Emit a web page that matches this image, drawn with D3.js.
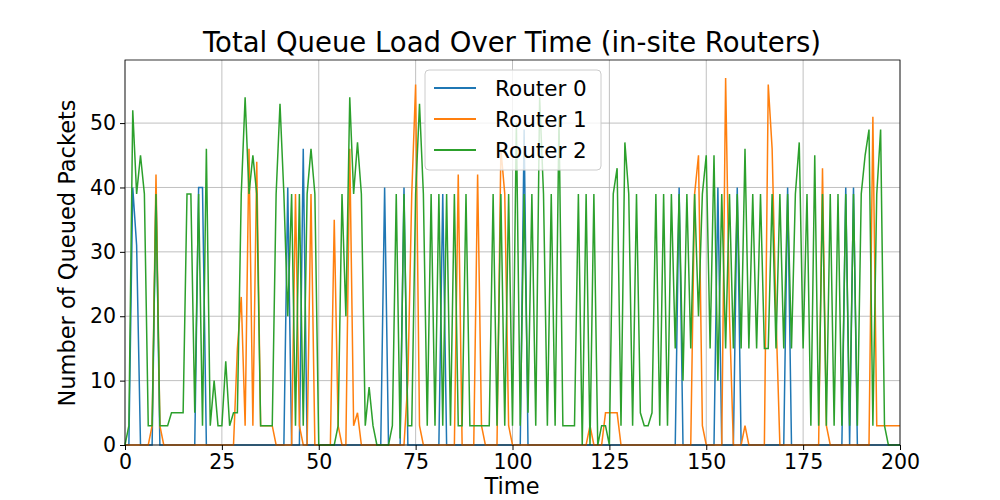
<!DOCTYPE html>
<html><head><meta charset="utf-8">
<script src="https://cdn.jsdelivr.net/npm/d3@7"></script>
<style>body{margin:0;background:#fff}text{font-family:"DejaVu Sans",sans-serif}</style>
</head><body><svg id="c" width="1000" height="500"></svg>
<script>
const seriesNames = ["Router 0","Router 1","Router 2"];
const colors = ["#1f77b4","#ff7f0e","#2ca02c"];
const xTicks = [0,25,50,75,100,125,150,175,200];
const yTicks = [0,10,20,30,40,50];
const router0 = [0,0,40,31,0,0,0,0,40,0, 0,0,0,0,0,0,0,0,0,40, 40,0,0,0,0,0,0,0,0,0, 0,0,0,0,0,0,0,0,0,0,
 0,0,40,0,0,0,46,0,0,0, 0,0,0,0,0,0,0,0,0,0, 0,0,0,0,0,0,0,40,0,0, 0,0,40,0,0,0,0,0,0,0, 0,0,39,0,0,0,0,0,0,0,
 0,0,0,0,0,0,0,0,0,0, 0,0,0,49,0,0,0,0,0,0, 0,0,0,0,0,0,0,0,0,0, 0,0,0,0,0,0,0,0,0,0, 0,0,0,0,0,0,0,0,0,0,
 0,0,0,40,0,0,0,0,0,0, 0,0,0,40,0,0,0,0,40,0, 0,0,0,0,0,0,0,0,0,0, 0,40,0,0,0,0,0,0,0,0, 0,0,0,0,0,0,40,0,40,0,
 0,0,0,0,0,0,0,0,0,0, 0];
const router1 = [0,0,0,0,0,0,0,3,42,3, 0,0,0,0,0,0,0,0,0,0, 0,0,0,0,0,0,0,0,0,15, 23,3,46,3,44,3,3,3,3,0,
 0,0,0,0,39,3,0,0,39,0, 0,0,0,0,35,3,0,0,46,3, 5,0,0,0,0,0,0,0,0,0, 0,0,0,10,39,56,3,0,0,0, 0,0,0,0,0,0,42,0,0,0,
 0,42,3,0,0,0,0,46,39,3, 0,0,0,0,0,0,0,0,0,0, 0,0,0,0,0,0,0,0,0,0, 3,0,0,0,5,5,5,5,0,0, 0,0,0,0,0,0,0,0,0,0,
 0,0,0,0,0,0,0,39,45,3, 0,0,0,0,0,57,20,0,0,0, 3,0,0,0,0,0,56,46,20,0, 0,0,0,0,0,0,0,0,0,0, 43,3,0,0,0,0,0,0,0,0,
 0,0,0,51,3,3,3,3,3,3, 3];
const router2 = [0,3,52,39,45,39,3,3,39,3, 3,3,5,5,5,5,39,39,5,39, 3,46,3,10,3,3,13,3,5,5, 39,54,39,45,39,3,3,3,3,39,
 53,39,20,39,3,39,3,39,46,39, 0,0,0,0,0,3,39,20,54,39, 47,39,3,9,3,0,0,0,0,3, 39,1,39,3,3,39,53,39,3,39,
 3,39,3,39,3,39,3,3,39,3, 3,3,3,3,3,39,3,39,3,39, 3,50,3,39,5,39,3,54,39,3, 39,3,51,3,3,3,3,39,0,39,
 0,39,0,3,3,0,39,43,3,47, 39,3,39,5,3,3,5,39,3,39, 3,39,15,39,10,39,15,39,20,39, 45,15,45,10,39,15,39,15,39,15,
 46,15,39,15,39,15,15,39,15,39, 15,39,15,39,47,15,39,3,45,3, 39,3,39,3,39,3,39,3,39,3, 39,45,49,3,39,49,3,0,0,0, 0];
const data = [router0, router1, router2];

const svg = d3.select("#c");
const m = {l:125, r:900, t:60, b:445};
const x = d3.scaleLinear().domain([0,200]).range([m.l,m.r]);
const y = d3.scaleLinear().domain([0,59.8]).range([m.b,m.t]);

svg.append("g").selectAll("line").data(xTicks).join("line")
  .attr("x1",d=>x(d)).attr("x2",d=>x(d)).attr("y1",m.t).attr("y2",m.b).attr("stroke","#b0b0b0").attr("stroke-width",0.8);
svg.append("g").selectAll("line").data(yTicks).join("line")
  .attr("y1",d=>y(d)).attr("y2",d=>y(d)).attr("x1",m.l).attr("x2",m.r).attr("stroke","#b0b0b0").attr("stroke-width",0.8);

const line = d3.line().x((d,i)=>x(i)).y(d=>y(d));
data.forEach((s,k)=>{
  svg.append("path").datum(s).attr("d",line).attr("fill","none").attr("stroke",colors[k]).attr("stroke-width",1.5);
});

svg.append("rect").attr("x",m.l).attr("y",m.t).attr("width",m.r-m.l).attr("height",m.b-m.t).attr("fill","none").attr("stroke","#000").attr("stroke-width",0.8);

const xa = svg.append("g").attr("transform",`translate(0,${m.b})`).call(d3.axisBottom(x).tickValues(xTicks).tickSize(5).tickPadding(4));
const ya = svg.append("g").attr("transform",`translate(${m.l},0)`).call(d3.axisLeft(y).tickValues(yTicks).tickSize(5).tickPadding(4));
[xa,ya].forEach(a=>{a.select(".domain").remove();a.selectAll("text").attr("font-size",20.5).attr("font-family","DejaVu Sans").attr("fill","#000");a.selectAll("line").attr("stroke","#000");});

svg.append("text").attr("x",512).attr("y",52).attr("text-anchor","middle").attr("font-size",27.5).text("Total Queue Load Over Time (in-site Routers)");
svg.append("text").attr("x",512).attr("y",494).attr("text-anchor","middle").attr("font-size",22.5).text("Time");
svg.append("text").attr("transform","translate(75,253) rotate(-90)").attr("text-anchor","middle").attr("font-size",22.5).text("Number of Queued Packets");

const lg = svg.append("g");
lg.append("rect").attr("x",425).attr("y",70).attr("width",176).attr("height",100).attr("rx",4).attr("fill","#fff").attr("fill-opacity",0.8).attr("stroke","#ccc");
seriesNames.forEach((n,i)=>{
  const yy = 88 + i*31;
  lg.append("line").attr("x1",434).attr("x2",476).attr("y1",yy).attr("y2",yy).attr("stroke",colors[i]).attr("stroke-width",2);
  lg.append("text").attr("x",495).attr("y",yy+7.5).attr("font-size",21.5).text(n);
});
</script></body></html>
